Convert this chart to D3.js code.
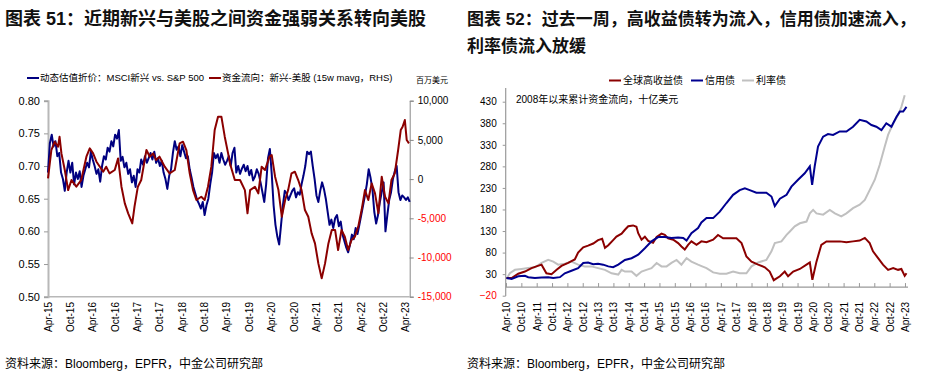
<!DOCTYPE html>
<html>
<head>
<meta charset="utf-8">
<title>EM vs US flows, bond flows</title>
<script src="https://cdn.jsdelivr.net/npm/d3@7"></script>
<style>
  body { margin: 0; background: #fff; }
  svg { font-family: "Liberation Sans", Arial, "Noto Sans CJK SC", sans-serif; }
</style>
</head>
<body>
<svg id="chart" width="930" height="378"></svg>
<script>
// ---- chart 51: half-month steps from Apr-15 ----
var leftTicks = ["Apr-15","Oct-15","Apr-16","Oct-16","Apr-17","Oct-17","Apr-18","Oct-18","Apr-19",
                 "Oct-19","Apr-20","Oct-20","Apr-21","Oct-21","Apr-22","Oct-22","Apr-23"];
var discountVals = [
  0.69,0.735,0.748,0.73,0.738,0.715,0.72,0.69,0.68,0.662,
  0.69,0.708,0.69,0.705,0.672,0.69,0.68,0.692,0.668,0.685,
  0.695,0.705,0.698,0.722,0.71,0.70,0.688,0.695,0.676,0.70,
  0.715,0.71,0.728,0.722,0.738,0.73,0.748,0.742,0.755,0.708,
  0.714,0.698,0.705,0.688,0.695,0.675,0.685,0.668,0.695,0.69,
  0.71,0.702,0.715,0.705,0.712,0.72,0.71,0.722,0.705,0.712,
  0.70,0.708,0.69,0.68,0.665,0.685,0.695,0.72,0.738,0.725,
  0.73,0.715,0.732,0.722,0.712,0.715,0.695,0.682,0.668,0.658,
  0.648,0.642,0.635,0.645,0.625,0.64,0.65,0.672,0.69,0.72,
  0.712,0.718,0.705,0.72,0.71,0.702,0.708,0.715,0.70,0.72,
  0.728,0.69,0.70,0.688,0.696,0.702,0.692,0.70,0.686,0.694,
  0.678,0.684,0.695,0.688,0.675,0.66,0.645,0.672,0.712,0.726,
  0.688,0.64,0.61,0.592,0.58,0.61,0.64,0.662,0.658,0.648,
  0.655,0.662,0.666,0.652,0.66,0.656,0.672,0.685,0.70,0.722,
  0.718,0.722,0.70,0.68,0.655,0.645,0.662,0.675,0.665,0.65,
  0.63,0.61,0.618,0.605,0.62,0.625,0.608,0.615,0.595,0.585,
  0.575,0.568,0.58,0.595,0.588,0.605,0.596,0.61,0.625,0.64,
  0.655,0.672,0.695,0.682,0.665,0.63,0.612,0.625,0.645,0.66,
  0.675,0.60,0.625,0.648,0.66,0.68,0.692,0.70,0.66,0.648,
  0.655,0.652,0.648,0.652,0.645
];
// [months since Apr-15, flow in USD mn]
var flowVals = [
  [0,100],[0.9,3700],[1.8,4770],[2.7,4130],[3.1,5400],[3.6,3280],[4.5,1160],[5.4,-1400],[6.3,-120],
  [7.6,-970],[8.9,-120],[10.3,2860],[11.2,3920],[12.1,3280],[13.0,2220],[13.9,1580],[14.8,940],
  [15.6,1580],[16.5,730],[17.9,1160],[18.8,2640],[19.7,-970],[20.6,-3100],[21.5,-4370],[22.6,-5650],
  [23.2,-3520],[24.1,-970],[25.0,-120],[26.4,3710],[27.3,2860],[28.2,3280],[29.0,2430],[29.9,2860],
  [31.3,1580],[32.6,730],[34.0,1160],[35.3,4560],[36.2,4770],[37.1,3710],[38.0,730],[38.9,-1400],
  [39.8,-2670],[41.1,-2250],[42.0,-2670],[42.9,-970],[43.8,1580],[44.7,6260],[45.6,7960],[46.5,7960],
  [47.4,5410],[48.3,3280],[48.8,2000],[50.1,-120],[51.5,-120],[52.8,-1400],[53.5,-4370],[54.2,-1400],
  [55.5,-970],[56.4,-1820],[57.3,1580],[58.2,1160],[59.4,2860],[60.0,3070],[60.9,310],[61.8,-1400],
  [62.7,-4800],[63.6,-2670],[64.4,-1400],[65.3,730],[66.2,940],[67.1,-120],[68.0,-1400],[68.9,-3950],
  [69.8,-4800],[70.7,-6920],[71.6,-8200],[72.5,-10750],[73.4,-12660],[74.3,-10750],[75.2,-8200],
  [76.1,-6500],[77.0,-6500],[77.8,-9050],[78.7,-6500],[79.6,-7350],[80.5,-9050],[81.4,-7770],
  [82.3,-7350],[83.2,-6070],[84.1,-3950],[85.0,-1400],[85.9,-2670],[86.8,-550],[87.7,-1820],
  [88.6,-4370],[89.5,310],[90.4,-2250],[91.3,-3100],[92.1,-120],[93.0,730],[93.9,3710],[94.6,6260],
  [95.1,6680],[95.7,7530],[96.2,4980],[96.8,4560]
];
var leftYTicks = [0.50,0.55,0.60,0.65,0.70,0.75,0.80];
var rightYTicks = [-15000,-10000,-5000,0,5000,10000];

// ---- chart 52: [months since Apr-10, USD bn] ----
var rightTicks = ["Apr-10","Oct-10","Apr-11","Oct-11","Apr-12","Oct-12","Apr-13","Oct-13","Apr-14",
                  "Oct-14","Apr-15","Oct-15","Apr-16","Oct-16","Apr-17","Oct-17","Apr-18","Oct-18",
                  "Apr-19","Oct-19","Apr-20","Oct-20","Apr-21","Oct-21","Apr-22","Oct-22","Apr-23"];
var hyVals = [
  [0,21],[2.0,21],[4.6,31],[7.2,36],[9.8,44],[11.7,48],[13.7,52],[15.6,32],[17.6,30],[19.6,40],
  [21.5,49],[24.1,56],[25.4,60],[26.7,64],[28.0,80],[30.0,92],[31.9,96],[33.9,101],[35.8,109],
  [37.4,112],[38.5,91],[39.8,97],[41.7,109],[43.0,117],[45.0,124],[46.3,133],[47.6,141],[49.5,143],
  [50.8,140],[51.5,125],[52.8,110],[54.1,117],[55.4,107],[57.3,103],[58.7,116],[60.6,124],[61.9,121],
  [63.2,113],[65.2,110],[67.1,102],[68.4,94],[69.7,87],[71.0,98],[72.3,106],[74.3,98],[76.2,106],
  [78.2,104],[80.8,110],[82.7,121],[84.7,113],[87.3,113],[89.9,113],[91.9,102],[93.8,71],[95.8,59],
  [98.4,52],[101.0,46],[102.9,36],[104.5,16],[106.9,25],[108.8,36],[110.1,25],[112.1,36],[114.7,42],
  [117.3,52],[118.6,57],[119.6,17],[121.2,59],[123.1,98],[125.1,106],[127.7,106],[130.3,106],
  [132.9,104],[135.5,106],[138.1,108],[140.1,114],[142.0,102],[143.3,83],[145.3,67],[147.2,52],
  [149.2,40],[151.2,44],[153.1,40],[154.4,42],[155.7,26],[156.4,32]
];
var creditVals = [
  [0,21],[2.0,19],[4.6,25],[7.2,26],[8.5,23],[11.1,21],[13.7,22],[16.3,23],[18.3,21],[20.9,23],
  [22.8,32],[25.4,38],[28.0,44],[30.0,56],[31.9,57],[33.9,53],[35.8,54],[37.8,52],[39.8,48],
  [41.7,46],[43.7,52],[46.3,63],[48.9,67],[51.5,75],[54.1,90],[56.7,106],[59.3,116],[61.9,116],
  [64.5,114],[67.1,115],[69.1,114],[70.4,108],[72.3,125],[74.9,137],[76.2,150],[78.2,160],[80.8,160],
  [83.4,175],[86.0,195],[88.6,214],[91.2,225],[93.2,229],[95.1,225],[97.7,219],[101.6,219],[103.6,210],
  [104.9,188],[106.9,205],[109.5,214],[111.4,233],[114.0,249],[116.6,264],[118.6,280],[119.5,237],
  [120.5,280],[121.8,326],[123.8,349],[125.7,355],[127.7,353],[130.3,361],[132.9,361],[135.5,372],
  [138.1,388],[140.7,384],[142.7,376],[144.6,372],[146.6,364],[148.5,380],[150.5,372],[152.5,395],
  [153.8,407],[155.1,407],[156.4,418]
];
var govtVals = [
  [0,19],[1.3,32],[3.3,40],[5.9,42],[8.5,44],[11.1,46],[13.7,56],[16.3,63],[18.3,59],[20.2,52],
  [22.8,54],[25.4,59],[28.0,52],[30.6,48],[33.2,48],[35.8,44],[38.5,40],[41.1,32],[43.7,29],[45.0,40],
  [46.3,36],[48.9,36],[50.8,26],[52.8,36],[54.7,40],[56.7,44],[58.7,56],[60.6,48],[62.6,48],[64.5,56],
  [66.5,63],[68.4,52],[70.4,67],[72.3,59],[74.9,52],[76.5,48],[78.2,44],[80.8,34],[83.4,31],[86.0,31],
  [88.6,36],[91.2,32],[93.8,32],[95.8,48],[98.4,57],[101.6,63],[103.6,83],[104.9,102],[107.5,106],
  [109.5,121],[110.8,129],[112.7,141],[114.7,148],[117.3,152],[118.6,171],[119.9,179],[121.2,171],
  [123.8,168],[126.4,179],[128.4,171],[130.9,164],[132.9,171],[135.5,183],[138.1,191],[140.1,202],
  [142.0,225],[144.0,249],[145.9,283],[147.9,326],[149.2,353],[151.2,380],[153.1,399],[154.4,418],
  [155.7,445]
];
var bondYTicks = [-20,30,80,130,180,230,280,330,380,430];

var svg = d3.select("#chart");
var negFmt = function(d) { return (d < 0 ? "-" : "") + d3.format(",")(Math.abs(d)); };

// titles and footers
svg.append("text").attr("x", 5).attr("y", 25).attr("font-size", 18).attr("font-weight", "bold")
   .attr("fill", "#111").text("图表 51：近期新兴与美股之间资金强弱关系转向美股");
svg.append("text").attr("x", 467).attr("y", 25).attr("font-size", 17).attr("font-weight", "bold")
   .attr("fill", "#111").text("图表 52：过去一周，高收益债转为流入，信用债加速流入，");
svg.append("text").attr("x", 467).attr("y", 52).attr("font-size", 17).attr("font-weight", "bold")
   .attr("fill", "#111").text("利率债流入放缓");
svg.append("text").attr("x", 5).attr("y", 368).attr("font-size", 12).text("资料来源：Bloomberg，EPFR，中金公司研究部");
svg.append("text").attr("x", 467).attr("y", 368).attr("font-size", 12).text("资料来源：Bloomberg，EPFR，中金公司研究部");

// ===== left chart =====
var x1 = d3.scaleLinear().domain([0, 97]).range([48, 409.7]);
var yL = d3.scaleLinear().domain([0.5, 0.8]).range([296.7, 100.7]);
var yR = d3.scaleLinear().domain([-15000, 10000]).range([296.7, 100.7]);

var gl = svg.append("g");

var axL = gl.append("g").attr("transform", "translate(48,0)")
  .call(d3.axisLeft(yL).tickValues(leftYTicks).tickFormat(d3.format(".2f")).tickSize(4).tickPadding(4));
axL.select(".domain").attr("stroke", "#b8b8b8").attr("stroke-width", 2);
axL.selectAll(".tick line").attr("stroke", "#999");
axL.selectAll("text").attr("font-size", 11).attr("fill", "#000");

var axR = gl.append("g").attr("transform", "translate(409.7,0)")
  .call(d3.axisRight(yR).tickValues(rightYTicks).tickFormat(negFmt).tickSize(4).tickPadding(4));
axR.select(".domain").attr("stroke", "#888");
axR.selectAll(".tick line").attr("stroke", "#888");
axR.selectAll("text").attr("font-size", 10).attr("fill", function(d) { return d < 0 ? "#ff0000" : "#000"; });

gl.append("line").attr("x1", 48).attr("x2", 409.7).attr("y1", 296.7).attr("y2", 296.7)
  .attr("stroke", "#b8b8b8").attr("stroke-width", 1.5);
gl.selectAll(".xl").data(leftTicks).enter().append("text")
  .attr("transform", function(d, i) { return "translate(" + x1(i * 6) + ",302) rotate(-90)"; })
  .attr("text-anchor", "end").attr("dy", "0.35em").attr("font-size", 10).text(function(d) { return d; });

gl.append("path").datum(discountVals)
  .attr("fill", "none").attr("stroke", "#000080").attr("stroke-width", 2).attr("stroke-linejoin", "round")
  .attr("d", d3.line().x(function(d, i) { return x1(i * 0.5); }).y(function(d) { return yL(d); }));
gl.append("path").datum(flowVals)
  .attr("fill", "none").attr("stroke", "#8b0000").attr("stroke-width", 2).attr("stroke-linejoin", "round")
  .attr("d", d3.line().x(function(d) { return x1(d[0]); }).y(function(d) { return yR(d[1]); }));

// legend
gl.append("line").attr("x1", 27).attr("x2", 39).attr("y1", 78).attr("y2", 78).attr("stroke", "#000080").attr("stroke-width", 2);
gl.append("text").attr("x", 40).attr("y", 78).attr("dy", "0.35em").attr("font-size", 9.5).text("动态估值折价：MSCI新兴 vs. S&P 500");
gl.append("line").attr("x1", 209).attr("x2", 221).attr("y1", 78).attr("y2", 78).attr("stroke", "#8b0000").attr("stroke-width", 2);
gl.append("text").attr("x", 222).attr("y", 78).attr("dy", "0.35em").attr("font-size", 9.5).text("资金流向：新兴-美股 (15w mavg，RHS)");
gl.append("text").attr("x", 416).attr("y", 80).attr("dy", "0.35em").attr("font-size", 8).text("百万美元");

// ===== right chart =====
var x2 = d3.scaleLinear().domain([0, 156.4]).range([506.5, 906.5]);
var y2 = d3.scaleLinear().domain([-20, 430]).range([295.7, 101.7]);

var gr = svg.append("g");
var axB = gr.append("g").attr("transform", "translate(505.7,0)")
  .call(d3.axisLeft(y2).tickValues(bondYTicks).tickSize(3).tickPadding(6));
axB.select(".domain").remove();
axB.selectAll(".tick line").attr("stroke", "#999");
axB.selectAll("text").attr("font-size", 10).attr("fill", function(d) { return d < 0 ? "#ff0000" : "#000"; });
gr.append("line").attr("x1", 505.7).attr("x2", 505.7).attr("y1", 88).attr("y2", 296)
  .attr("stroke", "#999").attr("stroke-width", 1.2);

var y0 = y2(0);
gr.append("line").attr("x1", 505.7).attr("x2", 908).attr("y1", y0).attr("y2", y0)
  .attr("stroke", "#999").attr("stroke-width", 1.2);
gr.selectAll(".xt").data(rightTicks).enter().append("line")
  .attr("x1", function(d, i) { return x2(i * 6); }).attr("x2", function(d, i) { return x2(i * 6); })
  .attr("y1", y0).attr("y2", y0 - 4).attr("stroke", "#999");
gr.selectAll(".xl").data(rightTicks).enter().append("text")
  .attr("transform", function(d, i) { return "translate(" + x2(i * 6) + ",302) rotate(-90)"; })
  .attr("text-anchor", "end").attr("dy", "0.35em").attr("font-size", 10).text(function(d) { return d; });

var line2 = d3.line().x(function(d) { return x2(d[0]); }).y(function(d) { return y2(d[1]); });
gr.append("path").datum(govtVals).attr("fill", "none").attr("stroke", "#c0c0c0").attr("stroke-width", 2).attr("d", line2);
gr.append("path").datum(hyVals).attr("fill", "none").attr("stroke", "#8b0000").attr("stroke-width", 2).attr("d", line2);
gr.append("path").datum(creditVals).attr("fill", "none").attr("stroke", "#000090").attr("stroke-width", 2).attr("d", line2);

gr.append("text").attr("x", 516).attr("y", 103).attr("font-size", 10).text("2008年以来累计资金流向，十亿美元");

var legend = [["全球高收益债", "#8b0000", 609], ["信用债", "#000090", 691], ["利率债", "#c0c0c0", 742]];
legend.forEach(function(l) {
  gr.append("line").attr("x1", l[2]).attr("x2", l[2] + 12).attr("y1", 80.5).attr("y2", 80.5).attr("stroke", l[1]).attr("stroke-width", 2);
  gr.append("text").attr("x", l[2] + 14).attr("y", 80.5).attr("dy", "0.35em").attr("font-size", 10).text(l[0]);
});
</script>
</body>
</html>
